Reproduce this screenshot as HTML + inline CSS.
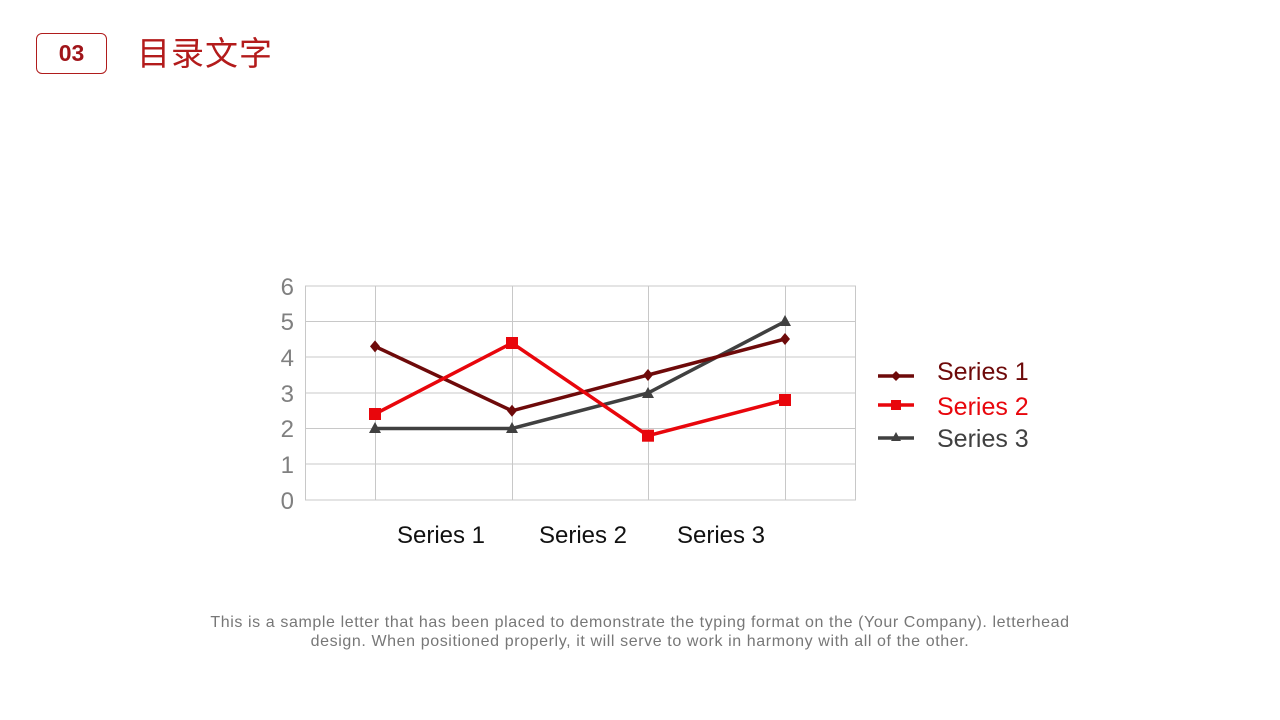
<!DOCTYPE html>
<html><head><meta charset="utf-8"><style>
body{margin:0;width:1280px;height:720px;background:#fff;position:relative;overflow:hidden;font-family:"Liberation Sans","Noto Sans CJK SC",sans-serif}
.box{position:absolute;left:36px;top:33px;width:69px;height:39px;border:1.5px solid #b01c1c;border-radius:6px;color:#a0151a;font-weight:bold;font-size:23px;text-align:center;line-height:39px}
.t{position:absolute;left:137px;top:27px;font-size:33px;color:#b31b1b;letter-spacing:1px;font-family:"Noto Sans CJK SC",sans-serif}
.p{position:absolute;left:195px;width:890px;top:613px;text-align:center;font-size:16px;letter-spacing:0.6px;color:#777;line-height:19px}
</style></head><body>
<div class="box">03</div>
<div class="t">目录文字</div>
<svg width="1280" height="720" style="position:absolute;left:0;top:0" font-family="Liberation Sans, sans-serif">
<g stroke="#c8c8c8" stroke-width="1" fill="none">
<rect x="305.5" y="286" width="550" height="214"/>
<line x1="305" y1="321.5" x2="855" y2="321.5"/><line x1="305" y1="357" x2="855" y2="357"/>
<line x1="305" y1="393" x2="855" y2="393"/><line x1="305" y1="428.5" x2="855" y2="428.5"/>
<line x1="305" y1="464" x2="855" y2="464"/>
<line x1="375.5" y1="286" x2="375.5" y2="500"/><line x1="512.5" y1="286" x2="512.5" y2="500"/>
<line x1="648.5" y1="286" x2="648.5" y2="500"/><line x1="785.5" y1="286" x2="785.5" y2="500"/>
</g>
<g fill="#808080" font-size="24" text-anchor="end">
<text x="294" y="295">6</text><text x="294" y="330">5</text><text x="294" y="366">4</text><text x="294" y="402">3</text><text x="294" y="437">2</text><text x="294" y="473">1</text><text x="294" y="509">0</text>
</g>
<g fill="#111" font-size="24" text-anchor="middle">
<text x="441" y="543">Series 1</text><text x="583" y="543">Series 2</text><text x="721" y="543">Series 3</text>
</g>
<polyline points="375,428.5 512,428.5 648,393 785,321.5" fill="none" stroke="#404040" stroke-width="3.5"/>
<polyline points="375,346.4 512,410.8 648,375 785,339" fill="none" stroke="#6e0a0a" stroke-width="3.5"/>
<polyline points="375,414 512,343 648,435.7 785,400" fill="none" stroke="#e8060c" stroke-width="3.5"/>
<g fill="#404040"><polygon points="375,422 381,433 369,433"/><polygon points="512,422 518,433 506,433"/><polygon points="648,387 654,398 642,398"/><polygon points="785,315 791,326 779,326"/></g>
<g fill="#6e0a0a"><polygon points="375,340.4 380,346.4 375,352.4 370,346.4"/><polygon points="512,404.8 517,410.8 512,416.8 507,410.8"/><polygon points="648,369 653,375 648,381 643,375"/><polygon points="785,333 790,339 785,345 780,339"/></g>
<g fill="#e8060c"><rect x="369" y="408" width="12" height="12"/><rect x="506" y="337" width="12" height="12"/><rect x="642" y="429.7" width="12" height="12"/><rect x="779" y="394" width="12" height="12"/></g>
<line x1="878" y1="376" x2="914" y2="376" stroke="#6e0a0a" stroke-width="3.5"/><polygon points="896,371 901,376 896,381 891,376" fill="#6e0a0a"/>
<line x1="878" y1="405" x2="914" y2="405" stroke="#e8060c" stroke-width="3.5"/><rect x="891" y="400" width="10" height="10" fill="#e8060c"/>
<line x1="878" y1="438" x2="914" y2="438" stroke="#404040" stroke-width="3.5"/><polygon points="896,432 901,441 891,441" fill="#404040"/>
<g font-size="25"><text x="937" y="380" fill="#6e0a0a">Series 1</text><text x="937" y="415" fill="#e8060c">Series 2</text><text x="937" y="447" fill="#404040">Series 3</text></g>
</svg>
<div class="p">This is a sample letter that has been placed to demonstrate the typing format on the (Your Company). letterhead design. When positioned properly, it will serve to work in harmony with all of the other.</div>
</body></html>
